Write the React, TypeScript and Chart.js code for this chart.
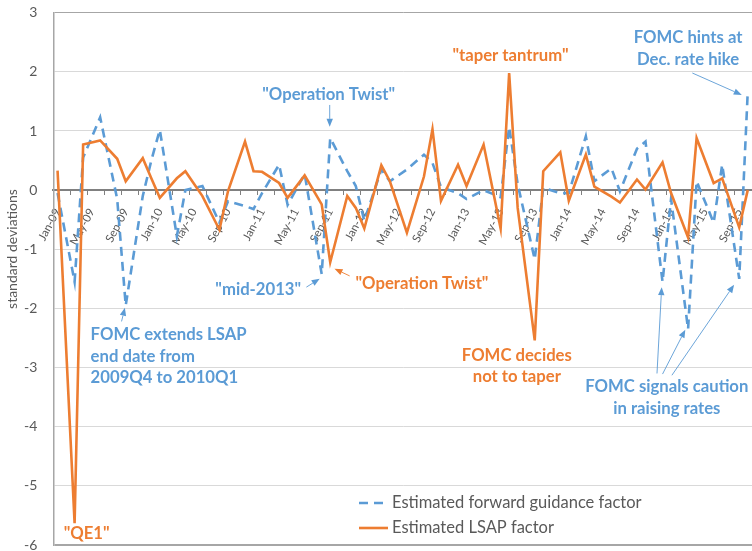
import React, { useEffect, useRef } from 'react';
import { Chart, registerables } from 'chart.js';

Chart.register(...registerables);

const FONT = 'Lato, "Liberation Sans", sans-serif';
const BLUE = '#5B9BD5';
const ORANGE = '#ED7D31';
const TEXT_GRAY = '#595959';

// Monthly categories, Jan-09 .. Oct-15 (values only at FOMC meeting months)
const months = [
  'Jan-09', 'Feb-09', 'Mar-09', 'Apr-09', 'May-09', 'Jun-09', 'Jul-09', 'Aug-09', 'Sep-09', 'Oct-09', 'Nov-09', 'Dec-09',
  'Jan-10', 'Feb-10', 'Mar-10', 'Apr-10', 'May-10', 'Jun-10', 'Jul-10', 'Aug-10', 'Sep-10', 'Oct-10', 'Nov-10', 'Dec-10',
  'Jan-11', 'Feb-11', 'Mar-11', 'Apr-11', 'May-11', 'Jun-11', 'Jul-11', 'Aug-11', 'Sep-11', 'Oct-11', 'Nov-11', 'Dec-11',
  'Jan-12', 'Feb-12', 'Mar-12', 'Apr-12', 'May-12', 'Jun-12', 'Jul-12', 'Aug-12', 'Sep-12', 'Oct-12', 'Nov-12', 'Dec-12',
  'Jan-13', 'Feb-13', 'Mar-13', 'Apr-13', 'May-13', 'Jun-13', 'Jul-13', 'Aug-13', 'Sep-13', 'Oct-13', 'Nov-13', 'Dec-13',
  'Jan-14', 'Feb-14', 'Mar-14', 'Apr-14', 'May-14', 'Jun-14', 'Jul-14', 'Aug-14', 'Sep-14', 'Oct-14', 'Nov-14', 'Dec-14',
  'Jan-15', 'Feb-15', 'Mar-15', 'Apr-15', 'May-15', 'Jun-15', 'Jul-15', 'Aug-15', 'Sep-15', 'Oct-15',
];

const forwardGuidance: (number | null)[] = [
  -0.05, null, -1.55, 0.55, null, 1.23, null, -0.15, -1.95, null, -0.1, 0.5,
  1.02, null, -0.78, 0.0, null, 0.07, null, -0.55, -0.19, null, -0.27, -0.32,
  -0.05, null, 0.43, -0.25, null, 0.27, null, -1.42, 0.88, null, 0.32, 0.07,
  -0.52, null, 0.35, 0.15, null, 0.35, null, 0.6, 0.46, 0.05, null, -0.05,
  -0.15, null, 0.0, null, -0.12, 1.07, 0.1, null, -1.17, 0.04, null, -0.05,
  -0.05, null, 0.91, 0.15, null, 0.37, -0.02, null, 0.7, 0.82, null, -1.55,
  -0.15, null, -2.35, 0.15, null, -0.55, 0.43, null, -1.5, 1.66,
];

const lsapFactor: (number | null)[] = [
  0.33, null, -5.63, 0.77, null, 0.84, null, 0.53, 0.15, null, 0.54, 0.2,
  -0.13, null, 0.2, 0.32, null, -0.1, null, -0.67, -0.02, null, 0.82, 0.32,
  0.31, null, 0.12, -0.13, null, 0.25, null, -0.24, -1.22, null, -0.1, -0.3,
  -0.65, null, 0.42, 0.15, null, -0.72, null, 0.23, 1.03, -0.18, null, 0.43,
  0.07, null, 0.77, null, -0.65, 1.98, -0.3, null, -2.54, 0.32, null, 0.64,
  -0.18, null, 0.6, 0.06, null, -0.11, -0.21, null, 0.18, 0.01, null, 0.47,
  -0.05, null, -0.8, 0.88, null, 0.12, 0.2, null, -0.63, 0.0,
];

const seriesNames = ['Estimated forward guidance factor', 'Estimated LSAP factor'];
const yAxisTitle = 'standard deviations';

type Note = { lines: string[]; color: string; x: number; y: number; align: CanvasTextAlign };
const notes: Note[] = [
  { lines: ['"QE1"'], color: ORANGE, x: 3.41, y: -5.8, align: 'center' },
  { lines: ['FOMC extends LSAP', 'end date from', '2009Q4 to 2010Q1'], color: BLUE, x: 3.88, y: -2.44, align: 'left' },
  { lines: ['"mid-2013"'], color: BLUE, x: 23.55, y: -1.69, align: 'center' },
  { lines: ['"Operation Twist"'], color: ORANGE, x: 42.77, y: -1.58, align: 'center' },
  { lines: ['"Operation Twist"'], color: BLUE, x: 31.82, y: 1.61, align: 'center' },
  { lines: ['"taper tantrum"'], color: ORANGE, x: 53.15, y: 2.28, align: 'center' },
  { lines: ['FOMC hints at', 'Dec. rate hike'], color: BLUE, x: 74.0, y: 2.58, align: 'center' },
  { lines: ['FOMC decides', 'not to taper'], color: ORANGE, x: 53.9, y: -2.79, align: 'center' },
  { lines: ['FOMC signals caution', 'in raising rates'], color: BLUE, x: 71.5, y: -3.33, align: 'center' },
];

type Arrow = { from: [number, number]; to: [number, number]; color: string };
const arrows: Arrow[] = [
  { from: [7.51, -2.22], to: [7.9, -1.99], color: BLUE },
  { from: [29.2, -1.64], to: [30.76, -1.5], color: BLUE },
  { from: [34.28, -1.45], to: [32.5, -1.33], color: ORANGE },
  { from: [31.94, 1.44], to: [31.94, 1.07], color: BLUE },
  { from: [74.5, 1.98], to: [80.3, 1.61], color: BLUE },
  { from: [70.35, -3.1], to: [70.9, -1.64], color: BLUE },
  { from: [71.0, -3.11], to: [73.67, -2.36], color: BLUE },
  { from: [72.1, -3.13], to: [79.4, -1.6], color: BLUE },
];

const drawArrow = (ctx: CanvasRenderingContext2D, x1: number, y1: number, x2: number, y2: number, color: string) => {
  const ang = Math.atan2(y2 - y1, x2 - x1);
  const head = 8;
  const half = 3.2;
  const bx = x2 - head * Math.cos(ang);
  const by = y2 - head * Math.sin(ang);
  ctx.save();
  ctx.strokeStyle = color;
  ctx.fillStyle = color;
  ctx.lineWidth = 0.9;
  ctx.beginPath();
  ctx.moveTo(x1, y1);
  ctx.lineTo(bx, by);
  ctx.stroke();
  ctx.beginPath();
  ctx.moveTo(x2, y2);
  ctx.lineTo(bx + half * Math.sin(ang), by - half * Math.cos(ang));
  ctx.lineTo(bx - half * Math.sin(ang), by + half * Math.cos(ang));
  ctx.closePath();
  ctx.fill();
  ctx.restore();
};

const overlayPlugin = {
  id: 'overlay',
  afterDatasetsDraw(chart: any) {
    const ctx: CanvasRenderingContext2D = chart.ctx;
    const xs = chart.scales.x;
    const ys = chart.scales.y;
    const area = chart.chartArea;
    ctx.save();
    // annotations
    ctx.font = `bold 16.7px ${FONT}`;
    ctx.textBaseline = 'middle';
    notes.forEach((n) => {
      const px = xs.getPixelForValue(n.x);
      const py = ys.getPixelForValue(n.y);
      ctx.fillStyle = n.color;
      ctx.textAlign = n.align;
      n.lines.forEach((line, i) => ctx.fillText(line, px, py + i * 21.7));
    });
    arrows.forEach((a) => {
      drawArrow(ctx, xs.getPixelForValue(a.from[0]), ys.getPixelForValue(a.from[1]),
        xs.getPixelForValue(a.to[0]), ys.getPixelForValue(a.to[1]), a.color);
    });
    // legend
    const ds = chart.data.datasets;
    const legendOrder = [1, 0];
    const lx = area.right - 393;
    legendOrder.forEach((di, row) => {
      const d = ds[di];
      const y = area.bottom - 42 + row * 25;
      ctx.save();
      ctx.strokeStyle = d.borderColor;
      ctx.lineWidth = d.borderWidth;
      ctx.setLineDash(d.borderDash || []);
      ctx.beginPath();
      ctx.moveTo(lx, y);
      ctx.lineTo(lx + 29, y);
      ctx.stroke();
      ctx.restore();
      ctx.font = `16.5px ${FONT}`;
      ctx.fillStyle = TEXT_GRAY;
      ctx.textAlign = 'left';
      ctx.textBaseline = 'middle';
      ctx.fillText(d.label, lx + 33, y);
    });
    // y axis title
    ctx.translate(12, 249);
    ctx.rotate(-Math.PI / 2);
    ctx.font = `14px ${FONT}`;
    ctx.fillStyle = TEXT_GRAY;
    ctx.textAlign = 'center';
    ctx.textBaseline = 'middle';
    ctx.fillText(yAxisTitle, 0, 0);
    ctx.restore();
  },
};

export default function App() {
  const ref = useRef<HTMLCanvasElement | null>(null);
  useEffect(() => {
    if (!ref.current) return;
    const chart = new Chart(ref.current, {
      type: 'line',
      data: {
        labels: months,
        datasets: [
          {
            label: seriesNames[1],
            data: lsapFactor,
            borderColor: ORANGE,
            borderWidth: 2.6,
            pointRadius: 0,
            spanGaps: true,
            tension: 0,
            order: 0,
          },
          {
            label: seriesNames[0],
            data: forwardGuidance,
            borderColor: BLUE,
            borderWidth: 2.6,
            borderDash: [9, 6],
            pointRadius: 0,
            spanGaps: true,
            tension: 0,
            order: 1,
          },
        ],
      },
      options: {
        animation: false,
        responsive: false,
        devicePixelRatio: 1,
        layout: { padding: { top: 12.7, bottom: 6, left: 0, right: 0 } },
        plugins: { legend: { display: false }, tooltip: { enabled: false } },
        scales: {
          x: {
            type: 'category',
            position: { y: 0 } as any,
            offset: true,
            grid: {
              display: true,
              drawOnChartArea: false,
              drawTicks: true,
              tickLength: 4,
              offset: true,
              color: (c: any) => (c.index % 2 === 0 ? '#808080' : 'rgba(0,0,0,0)'),
            },
            border: { display: true, color: '#808080', width: 2 },
            ticks: {
              autoSkip: false,
              maxRotation: 62,
              minRotation: 62,
              padding: 12,
              color: TEXT_GRAY,
              font: { family: FONT, size: 11.5 },
              callback: (_v: any, i: number) => (i % 4 === 0 ? months[i] : ''),
            },
            afterFit: (s: any) => {
              s.paddingLeft = 0;
              s.paddingRight = 0;
              s.paddingTop = 0;
              s.paddingBottom = 0;
            },
          },
          y: {
            min: -6,
            max: 3,
            ticks: { stepSize: 1, padding: 16, color: TEXT_GRAY, font: { family: FONT, size: 14 } },
            grid: {
              drawTicks: false,
              color: (c: any) => (c.tick && (c.tick.value === 3 || c.tick.value === -6) ? '#a6a6a6' : '#d9d9d9'),
              lineWidth: (c: any) => (c.tick && c.tick.value === -6 ? 2 : 1),
            },
            border: { display: true, color: '#a6a6a6', width: 1.5 },
            afterFit: (s: any) => {
              s.width = 53.3;
              s.paddingTop = 0;
              s.paddingBottom = 0;
            },
          },
        },
      },
      plugins: [overlayPlugin],
    });
    return () => chart.destroy();
  }, []);
  return (
    <div style={{ position: 'fixed', left: 0, top: 0, width: 752, height: 551, background: '#fff' }}>
      <canvas ref={ref} width={752} height={551} style={{ display: 'block' }} />
    </div>
  );
}
